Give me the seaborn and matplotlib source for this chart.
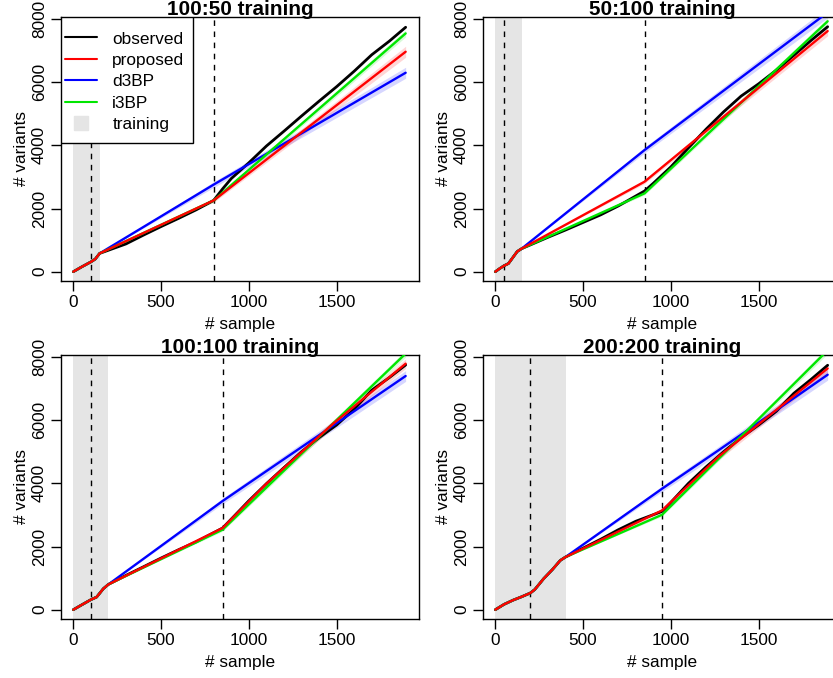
import numpy as np
import matplotlib
matplotlib.use("Agg")
import matplotlib.pyplot as plt
import matplotlib.patches as mpatches
import seaborn as sns
from matplotlib.lines import Line2D

# ---- data ----
titles = ["100:50 training", "50:100 training", "100:100 training", "200:200 training"]
train_end = [150, 150, 200, 400]
split_lines = [[100, 800], [50, 850], [100, 850], [200, 950]]

# observed curves
obs_x_a = [0, 50, 100, 125, 150, 200, 300, 400, 500, 600, 700, 800, 850, 900, 1000,
           1100, 1200, 1300, 1400, 1500, 1600, 1700, 1800, 1893]
obs_y_a = [0, 160, 310, 400, 580, 680, 880, 1160, 1430, 1690, 1960, 2260, 2620, 2950, 3450,
           3980, 4450, 4930, 5400, 5860, 6350, 6870, 7300, 7740]

obs_x_b = [0, 25, 50, 75, 100, 125, 150, 200, 300, 400, 500, 600, 700, 850, 900, 1000,
           1100, 1200, 1300, 1400, 1500, 1600, 1700, 1800, 1893]
obs_y_b = [0, 100, 190, 260, 450, 640, 730, 850, 1090, 1320, 1560, 1800, 2080, 2555, 2800, 3320,
           3920, 4510, 5060, 5560, 5950, 6380, 6850, 7330, 7757]

obs_x_c = [0, 50, 100, 133, 171, 200, 300, 400, 500, 600, 700, 850, 911, 1000,
           1100, 1200, 1300, 1400, 1500, 1600, 1700, 1800, 1893]
obs_y_c = [0, 160, 317, 401, 665, 802, 1087, 1360, 1636, 1900, 2150, 2585, 2934, 3450,
           3990, 4500, 5000, 5450, 5850, 6350, 6950, 7350, 7750]

obs_x_d = [0, 50, 100, 150, 200, 225, 275, 325, 370, 400, 500, 600, 700, 800, 950, 1000,
           1100, 1200, 1300, 1400, 1500, 1600, 1700, 1800, 1893]
obs_y_d = [0, 170, 300, 410, 530, 640, 980, 1270, 1560, 1668, 1950, 2230, 2530, 2800, 3113, 3400,
           4000, 4520, 5000, 5450, 5850, 6280, 6850, 7300, 7740]

# model predictions beyond training (x grid per panel) and band half widths
pred_x_a = [150, 800, 1893]
proposed_a = [580, 2260, 6965]
d3bp_a = [580, 2760, 6300]
i3bp_a = [580, 2260, 7546]

pred_x_b = [150, 850, 1893]
proposed_b = [730, 2850, 7620]
d3bp_b = [730, 3852, 8210]
i3bp_b = [730, 2480, 7930]

pred_x_c = [200, 850, 1100, 1480, 1893]
proposed_c = [802, 2585, 3990, 5890, 7790]
d3bp_c = [802, 3440, 4390, 5830, 7400]
i3bp_c = [802, 2533, 3870, 5900, 8110]

pred_x_d = [400, 950, 1272, 1893]
proposed_d = [1668, 3145, 4850, 7640]
d3bp_d = [1668, 3832, 5050, 7440]
i3bp_d = [1668, 3008, 4780, 8214]

band_proposed_a = [0, 60, 175]
band_d3bp_a = [0, 90, 175]
band_i3bp_a = [0, 50, 110]
band_proposed_b = [0, 60, 150]
band_d3bp_b = [0, 90, 170]
band_i3bp_b = [0, 50, 110]
band_proposed_c = [0, 60, 90, 120, 150]
band_d3bp_c = [0, 90, 110, 140, 170]
band_i3bp_c = [0, 50, 70, 90, 110]
band_proposed_d = [0, 60, 100, 150]
band_d3bp_d = [0, 90, 120, 170]
band_i3bp_d = [0, 50, 70, 110]

series_names = ["observed", "proposed", "d3BP", "i3BP"]
series_colors = ["black", "#FF0000", "#0000FF", "#00E600"]
train_color = "#E5E5E5"

panels = [
    (obs_x_a, obs_y_a, pred_x_a, [proposed_a, d3bp_a, i3bp_a], [band_proposed_a, band_d3bp_a, band_i3bp_a]),
    (obs_x_b, obs_y_b, pred_x_b, [proposed_b, d3bp_b, i3bp_b], [band_proposed_b, band_d3bp_b, band_i3bp_b]),
    (obs_x_c, obs_y_c, pred_x_c, [proposed_c, d3bp_c, i3bp_c], [band_proposed_c, band_d3bp_c, band_i3bp_c]),
    (obs_x_d, obs_y_d, pred_x_d, [proposed_d, d3bp_d, i3bp_d], [band_proposed_d, band_d3bp_d, band_i3bp_d]),
]

# ---- style ----
sns.set_style("white")
plt.rcParams["font.family"] = ["Liberation Sans", "DejaVu Sans"]
plt.rcParams["text.color"] = "black"
plt.rcParams["axes.labelcolor"] = "black"
plt.rcParams["xtick.color"] = "black"
plt.rcParams["ytick.color"] = "black"
FS = 12.4

W, H = 833, 678
fig = plt.figure(figsize=(W / 100, H / 100), dpi=100)

# axes boxes in pixels: left, top; all the same size
boxes = [(61, 17), (483, 17), (61, 355), (483, 355)]
bw, bh = 358, 264

draw_order = [1, 2, 0]  # d3BP, i3BP, proposed on top

for i, (ox, oy, px, preds, bands) in enumerate(panels):
    l, t = boxes[i]
    ax = fig.add_axes([l / W, 1 - (t + bh) / H, bw / W, bh / H])
    ax.axvspan(0, train_end[i], color=train_color, lw=0, zorder=0)
    for s in split_lines[i]:
        ax.axvline(s, color="black", lw=1.0, ls=(0, (4, 4)), zorder=1)

    # fitted part inside the training window follows the observed curve
    fit_x = [x for x in ox if x < train_end[i]]
    fit_y = oy[:len(fit_x)]

    # confidence bands
    for k in draw_order:
        y = np.array(preds[k])
        w = np.array(bands[k])
        ax.fill_between(px, y - w, y + w, color=series_colors[k + 1], alpha=0.16, lw=0, zorder=2)

    sns.lineplot(x=ox, y=oy, color=series_colors[0], lw=2.0, ax=ax, estimator=None, sort=False, zorder=3)
    for k in draw_order:
        sns.lineplot(x=fit_x + px, y=fit_y + preds[k], color=series_colors[k + 1], lw=1.7, ax=ax,
                     estimator=None, sort=False, zorder=4)

    ax.set_xlim(-70, 1969)
    ax.set_ylim(-294, 8065)
    ax.set_xticks([0, 500, 1000, 1500], ["0", "500", "1000", "1500"])
    ax.set_yticks([0, 2000, 4000, 6000, 8000], ["0", "2000", "4000", "6000", "8000"],
                  rotation=90, va="center")
    ax.tick_params(direction="out", length=7.5, width=1.0, labelsize=FS, pad=2.5,
                   bottom=True, left=True, colors="black")
    for sp in ax.spines.values():
        sp.set_visible(True)
        sp.set_color("black")
        sp.set_linewidth(1.0)
    ax.set_xlabel("# sample", fontsize=FS, labelpad=5)
    ax.set_ylabel("# variants", fontsize=FS, labelpad=2)
    ax.set_title(titles[i], fontsize=FS * 1.2, fontweight="bold", pad=1.5, color="black")

    if i == 0:
        # R-style legend box: wide vertical padding, narrow side padding
        frame = mpatches.Rectangle((0, 1 - 126 / bh), 132 / bw, 126 / bh, transform=ax.transAxes,
                                   facecolor="white", edgecolor="black", lw=1.0, zorder=9)
        ax.add_patch(frame)
        handles = [Line2D([], [], color=c, lw=1.5) for c in series_colors]
        handles.append(Line2D([], [], marker="s", ms=10.5, color=train_color, ls="none"))
        leg = ax.legend(handles, series_names + ["training"], loc="upper left",
                        bbox_to_anchor=(0, 1 - 10.5 / bh), borderaxespad=0, frameon=False,
                        fontsize=FS, handlelength=1.85, handletextpad=0.9,
                        labelspacing=0.37, borderpad=0.23)
        leg.set_zorder(10)

fig.savefig("out.png", dpi=100)
